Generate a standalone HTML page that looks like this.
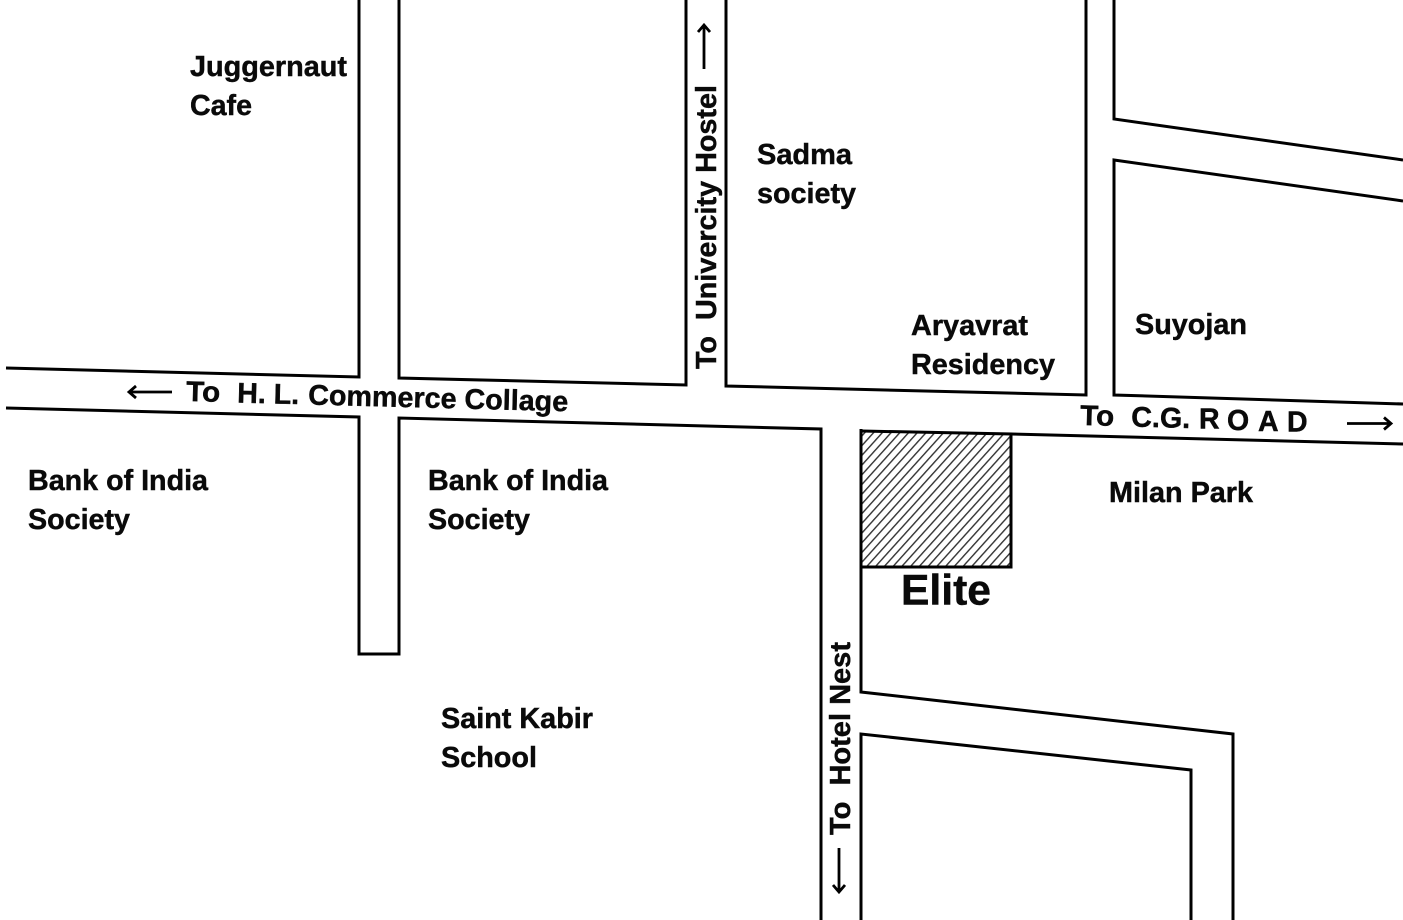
<!DOCTYPE html>
<html>
<head>
<meta charset="utf-8">
<style>
html,body{margin:0;padding:0;background:#fff;width:1403px;height:920px;overflow:hidden}
svg{display:block}
text{font-family:"Liberation Sans",sans-serif;font-weight:bold;font-size:28.5px;fill:#0a0a0a;stroke:#0a0a0a;stroke-width:.45;white-space:pre}
.l{fill:none;stroke:#000;stroke-width:3}
</style>
</head>
<body>
<svg width="1403" height="920" viewBox="0 0 1403 920" xmlns="http://www.w3.org/2000/svg">
<defs>
<pattern id="h" width="6.5" height="6.5" patternUnits="userSpaceOnUse" patternTransform="rotate(42 862 431)">
<rect width="6.5" height="6.5" fill="#fff"/>
<rect x="0" y="0" width="1.4" height="6.5" fill="#333"/>
</pattern>
</defs>

<polygon points="862,431 1011,434 1011,567 862,567" fill="url(#h)"/>
<polyline class="l" points="862,431 1011,434 1011,567 862,567"/>

<polyline class="l" points="6,368 359,377 359,0"/>
<polyline class="l" points="399,0 399,378 686,385 686,0"/>
<polyline class="l" points="726,0 726,386 1086,395 1086,0"/>
<polyline class="l" points="1114,0 1114,119 1403,160"/>
<polyline class="l" points="1403,201 1114,160 1114,395 1403,404"/>
<polyline class="l" points="6,408 359,417 359,654 399,654 399,418 821,429 821,920"/>
<polyline class="l" points="861,429 861,692 1233,734 1233,920"/>
<polyline class="l" points="1011,434 1403,444"/>
<polyline class="l" points="861,920 861,734 1191,770 1191,920"/>

<text x="190" y="76" textLength="157" lengthAdjust="spacingAndGlyphs">Juggernaut</text>
<text x="190" y="115" textLength="62" lengthAdjust="spacingAndGlyphs">Cafe</text>
<text x="757" y="164" textLength="95" lengthAdjust="spacingAndGlyphs">Sadma</text>
<text x="757" y="203" textLength="99" lengthAdjust="spacingAndGlyphs">society</text>
<text x="911" y="335" textLength="117" lengthAdjust="spacingAndGlyphs">Aryavrat</text>
<text x="911" y="374" textLength="144" lengthAdjust="spacingAndGlyphs">Residency</text>
<text x="1135" y="334" textLength="112" lengthAdjust="spacingAndGlyphs">Suyojan</text>
<text x="1109" y="502" textLength="144" lengthAdjust="spacingAndGlyphs">Milan Park</text>
<text x="28" y="490" textLength="180" lengthAdjust="spacingAndGlyphs">Bank of India</text>
<text x="28" y="529" textLength="102" lengthAdjust="spacingAndGlyphs">Society</text>
<text x="428" y="490" textLength="180" lengthAdjust="spacingAndGlyphs">Bank of India</text>
<text x="428" y="529" textLength="102" lengthAdjust="spacingAndGlyphs">Society</text>
<text x="441" y="728" textLength="152" lengthAdjust="spacingAndGlyphs">Saint Kabir</text>
<text x="441" y="767" textLength="96" lengthAdjust="spacingAndGlyphs">School</text>
<text x="901" y="604.5" style="font-size:43px" textLength="90" lengthAdjust="spacingAndGlyphs">Elite</text>

<text transform="translate(186,401) rotate(1.5)" textLength="34" lengthAdjust="spacingAndGlyphs">To</text>
<text transform="translate(237,402.5) rotate(1.5)" textLength="62" lengthAdjust="spacingAndGlyphs">H. L.</text>
<text transform="translate(308,404.5) rotate(1.5)" textLength="260" lengthAdjust="spacingAndGlyphs">Commerce Collage</text>
<text transform="translate(1080,425) rotate(1.5)" textLength="34" lengthAdjust="spacingAndGlyphs">To</text>
<text transform="translate(1131,426.5) rotate(1.5)" textLength="59" lengthAdjust="spacingAndGlyphs">C.G.</text>
<text x="1199" y="428.5" style="font-size:28.5px">R</text>
<text x="1227" y="430" style="font-size:28.5px">O</text>
<text x="1258" y="431" style="font-size:28.5px">A</text>
<text x="1287" y="431.5" style="font-size:28.5px">D</text>
<text transform="translate(716,369) rotate(-90)" textLength="284" lengthAdjust="spacingAndGlyphs">To  Univercity Hostel</text>
<text transform="translate(850,835) rotate(-90)" textLength="193" lengthAdjust="spacingAndGlyphs">To  Hotel Nest</text>

<g fill="none" stroke="#000" stroke-width="2.8">
<path d="M172,392H129M136,386L129,392L136,398"/>
<path d="M1347,423.5H1391M1384,417.5L1391,423.5L1384,429.5"/>
<path d="M704,69V25M698,32L704,25L710,32"/>
<path d="M839,848V892M833,885L839,892L845,885"/>
</g>
</svg>
</body>
</html>
